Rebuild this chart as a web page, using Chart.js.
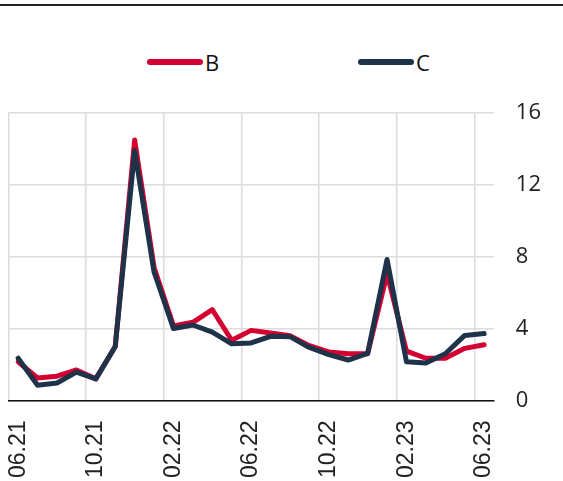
<!DOCTYPE html>
<html>
<head>
<meta charset="utf-8">
<script src="https://cdn.jsdelivr.net/npm/chart.js@4"></script>
<style>
body { margin: 0; background: #fff; }
#wrap { position: relative; width: 563px; height: 481px; overflow: hidden; }
#topline { position: absolute; left: 0; top: 4px; width: 563px; height: 1.5px; background: #222; }
.item { position: absolute; top: 48px; height: 28px; display: flex; align-items: center; font: 22px "Open Sans"; color: #111; }
.swatch { width: 56px; height: 6px; border-radius: 3px; margin-right: 2px; }
canvas { position: absolute; left: -2px; top: 0; }
</style>
</head>
<body>
<div id="wrap">
  <div id="topline"></div>
  <div id="legend"></div>
  <canvas id="chart" width="586" height="502"></canvas>
</div>
<script>
const months = ['06.21','07.21','08.21','09.21','10.21','11.21','12.21','01.22','02.22','03.22','04.22','05.22',
  '06.22','07.22','08.22','09.22','10.22','11.22','12.22','01.23','02.23','03.23','04.23','05.23','06.23']
const tickLabels = ['06.21','10.21','02.22','06.22','10.22','02.23','06.23']

const seriesB = [2.15, 1.25, 1.35, 1.7, 1.2, 3.0, 14.5, 7.4, 4.15, 4.35, 5.05, 3.35, 3.9,
  3.75, 3.6, 3.05, 2.7, 2.6, 2.6, 7.05, 2.75, 2.35, 2.35, 2.9, 3.1]
const seriesC = [2.35, 0.85, 0.97, 1.58, 1.2, 3.0, 13.9, 7.15, 4.0, 4.2, 3.8, 3.15, 3.2,
  3.57, 3.55, 2.95, 2.55, 2.25, 2.62, 7.85, 2.15, 2.08, 2.6, 3.62, 3.72]

const seriesNames = ['B', 'C']
const seriesColors = ['#d50032', '#1e3249']
const legendLeft = [147, 358]

// legend
const legend = document.getElementById('legend')
seriesNames.forEach((name, i) => {
  const item = document.createElement('div')
  item.className = 'item'
  item.style.left = legendLeft[i] + 'px'
  item.innerHTML = '<span class="swatch" style="background:' + seriesColors[i] + '"></span>'
  item.appendChild(document.createTextNode(name))
  legend.appendChild(item)
})

const ctx = document.getElementById('chart').getContext('2d')

const chart = new Chart(ctx, {
  type: 'line',
  data: {
    labels: months,
    datasets: [{
      label: seriesNames[0],
      data: seriesB,
      borderColor: seriesColors[0],
      backgroundColor: seriesColors[0],
      borderWidth: 5,
      borderJoinStyle: 'round',
      borderCapStyle: 'round',
      pointRadius: 0,
      order: 1
    }, {
      label: seriesNames[1],
      data: seriesC,
      borderColor: seriesColors[1],
      backgroundColor: seriesColors[1],
      borderWidth: 5,
      borderJoinStyle: 'round',
      borderCapStyle: 'round',
      pointRadius: 0,
      order: 0
    }]
  },
  options: {
    responsive: false,
    animation: false,
    layout: { padding: { top: 113, left: 8, right: 21, bottom: 4 } },
    plugins: { legend: { display: false }, tooltip: { enabled: false } },
    scales: {
      x: {
        offset: true,
        grid: {
          offset: true,
          drawTicks: false,
          tickLength: 0,
          tickColor: 'rgba(0,0,0,0)',
          color: c => (c.index % 4 === 0 && c.index < months.length) ? '#dcdcdc' : 'rgba(0,0,0,0)',
          lineWidth: 1.5
        },
        border: { display: true, color: '#111', width: 1.5 },
        ticks: {
          autoSkip: false,
          maxRotation: 90,
          minRotation: 90,
          padding: 20,
          color: '#222',
          font: { family: '"Liberation Sans", Arial', size: 23 },
          callback: (v, i) => tickLabels.includes(months[i]) ? months[i] : ''
        }
      },
      y: {
        position: 'right',
        min: 0,
        max: 16,
        grid: { drawTicks: false, color: '#dcdcdc', lineWidth: 1.5 },
        border: { display: false },
        ticks: {
          stepSize: 4,
          padding: 22,
          color: '#222',
          font: { family: '"Open Sans"', size: 22 }
        }
      }
    }
  }
})
</script>
</body>
</html>
